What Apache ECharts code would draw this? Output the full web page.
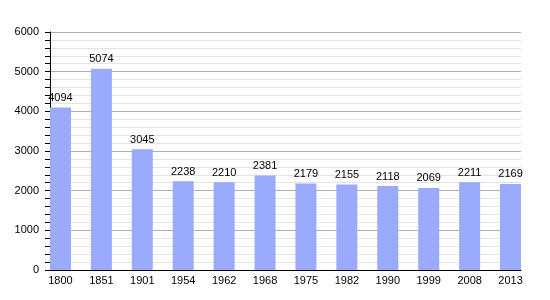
<!DOCTYPE html>
<html><head><meta charset="utf-8">
<script src="https://cdn.jsdelivr.net/npm/echarts@6/dist/echarts.min.js"></script>
<style>html,body{margin:0;padding:0;background:#fff}#c{width:550px;height:300px}</style>
</head><body><div id="c"></div>
<script>
var years = ["1800","1851","1901","1954","1962","1968","1975","1982","1990","1999","2008","2013"];
var population = [4094,5074,3045,2238,2210,2381,2179,2155,2118,2069,2211,2169];
var yMin = 0, yMax = 6000, yStep = 1000;

var chart = echarts.init(document.getElementById('c'), null, {renderer:'canvas'});
var font = 'Liberation Sans, Arial, sans-serif';
chart.setOption({
  animation:false,
  backgroundColor:'#fff',
  grid:[
    {left:50, right:29, top:32, bottom:30},
    {left:40, right:19, top:32, bottom:30}
  ],
  xAxis:[
    {gridIndex:0, type:'category', data:years, axisLabel:{show:false}, axisTick:{show:false},
     axisLine:{lineStyle:{color:'#000', width:1}}},
    {gridIndex:1, type:'category', data:years, axisLine:{show:false}, axisTick:{show:false},
     axisLabel:{color:'#000', fontSize:11, fontFamily:font, margin:5, interval:0}}
  ],
  yAxis:[
    {gridIndex:0, type:'value', min:yMin, max:yMax, interval:yStep,
     axisLine:{show:true, lineStyle:{color:'#000'}},
     axisTick:{show:true, length:5, lineStyle:{color:'#000'}},
     minorTick:{show:true, splitNumber:5, length:5, lineStyle:{color:'#000'}},
     splitLine:{show:true, lineStyle:{color:'#b0b0b0', width:1}},
     minorSplitLine:{show:true, lineStyle:{color:'#e4e4e4', width:1}},
     axisLabel:{color:'#000', fontSize:11, fontFamily:font, margin:11,
       formatter:function(v){return String(v);}}},
    {gridIndex:1, type:'value', min:yMin, max:yMax, interval:yStep, show:false,
     splitLine:{show:false}}
  ],
  series:[{
    type:'bar', xAxisIndex:1, yAxisIndex:1, data:population, barWidth:21,
    itemStyle:{color:'#9aaafd'},
    label:{show:true, position:'top', color:'#000', fontSize:11, fontFamily:font, distance:4}
  }]
});
</script></body></html>
